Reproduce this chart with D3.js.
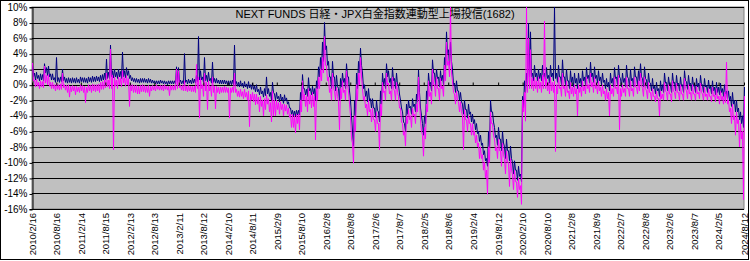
<!DOCTYPE html>
<html>
<head>
<meta charset="utf-8">
<script src="https://cdn.jsdelivr.net/npm/d3@7/dist/d3.min.js"></script>
<style>
  body { margin: 0; background: #fff; }
  text { font-family: "Liberation Sans", Arial, "Noto Sans CJK JP", sans-serif; }
</style>
</head>
<body>
<script>
// chart text
var chartTitle = "NEXT FUNDS 日経・JPX白金指数連動型上場投信(1682)";

// first and last day on the axis
var startDate = "2010/2/16",
    endDate = "2024/8/12";

// category labels shown under the plot
var tickLabels = ["2010/2/16", "2010/8/16", "2011/2/14", "2011/8/15", "2012/2/13", "2012/8/13",
  "2013/2/11", "2013/8/12", "2014/2/10", "2014/8/11", "2015/2/9", "2015/8/10", "2016/2/8",
  "2016/8/8", "2017/2/6", "2017/8/7", "2018/2/5", "2018/8/6", "2019/2/4", "2019/8/12",
  "2020/2/10", "2020/8/10", "2021/2/8", "2021/8/9", "2022/2/7", "2022/8/8", "2023/2/6",
  "2023/8/7", "2024/2/5", "2024/8/12"];

// value axis (%)
var yTicks = [10, 8, 6, 4, 2, 0, -2, -4, -6, -8, -10, -12, -14, -16];

// the daily series are too dense to read one by one, so each one is read off
// the picture as the top and bottom of its band, in even steps from startDate to endDate (%)
var navyHigh = [
  2.5,1.5,1.6,1.2,1.4,1.3,2.7,2.2,2.4,1.4,
  1.4,0.9,3.5,0.9,1.0,2.0,1.0,0.8,0.9,0.8,
  0.9,0.8,0.9,0.7,1.0,0.9,0.9,0.8,1.0,0.9,
  1.1,1.0,1.1,1.0,1.2,1.3,1.5,3.3,1.6,5.1,
  1.8,2.0,1.6,2.0,1.7,4.2,1.8,2.2,1.8,1.2,
  0.9,0.8,0.8,0.7,0.8,0.8,0.8,0.7,0.8,0.7,
  0.6,0.5,0.5,0.5,0.6,0.5,0.5,0.4,0.5,0.5,
  0.5,0.5,2.3,2.2,0.6,0.5,4.0,0.6,0.7,0.6,
  0.8,0.7,1.2,6.2,1.8,1.0,3.5,1.2,1.6,0.8,
  2.9,0.8,0.8,0.6,0.6,0.6,0.6,0.5,0.5,0.5,
  0.6,5.1,0.4,0.3,0.5,0.2,0.4,0.1,0.4,0.0,
  0.2,-0.2,0.0,-0.6,-0.3,-0.8,-0.5,1.0,-0.5,-1.0,
  0.3,-1.2,-1.0,-1.5,-1.2,-1.6,-1.3,-1.7,-2.2,-3.0,
  -3.3,-3.4,-3.3,-3.3,-1.0,1.3,-0.5,-0.6,0.9,-0.5,
  -0.2,-0.5,0.5,2.3,3.5,5.5,8.0,5.0,3.0,1.0,
  3.0,1.0,1.2,-0.5,0.8,1.5,0.8,2.7,1.0,-2.0,
  -6.0,-2.0,1.5,3.0,4.7,1.5,0.0,-0.8,-0.5,-1.8,
  -1.8,-3.0,-2.0,-3.5,-0.8,1.5,0.8,2.7,1.8,0.8,
  2.2,0.8,1.5,0.0,-2.0,-3.5,-5.0,-2.5,-2.0,-2.8,
  -1.8,-2.5,-1.2,1.9,-3.0,-5.0,-4.0,-0.8,1.5,0.3,
  3.2,1.5,2.0,1.0,1.8,1.2,3.5,6.8,4.5,5.5,
  2.0,0.2,0.5,-0.8,-1.0,-2.5,-2.0,-3.2,-2.5,-3.5,
  -3.8,-4.5,-5.0,-6.0,-6.5,-7.5,-8.5,-9.5,-6.0,-2.0,
  -3.5,-5.5,-6.5,-5.5,-7.0,-6.0,-8.0,-7.0,-8.5,-7.9,
  -10.0,-9.8,-11.0,-10.5,-11.5,-1.5,0.5,1.5,7.9,6.8,
  1.5,2.5,1.5,2.0,1.5,2.5,1.5,2.2,1.2,2.5,
  1.5,10,1.5,2.5,1.0,3.2,1.0,2.0,0.5,1.8,
  1.0,1.5,0.8,1.5,0.8,1.8,1.0,2.2,1.2,2.9,
  1.5,2.3,1.2,1.8,1.0,1.5,0.6,0.8,0.3,1.5,
  0.8,2.2,1.0,2.5,0.8,1.5,0.8,2.5,0.8,2.0,
  0.8,2.3,1.0,1.8,2.7,0.8,2.3,0.6,1.5,0.2,
  0.8,-0.2,0.3,-0.5,0.5,0.0,1.5,0.3,1.0,0.0,
  1.5,0.3,1.2,0.2,1.0,0.0,1.8,0.4,1.2,0.2,
  1.0,0.0,0.8,0.2,1.2,0.0,0.8,-0.1,0.6,-0.2,
  0.5,-0.3,0.3,-0.3,0.2,-0.5,0.0,-0.8,-0.8,-1.5,
  -1.0,-2.0,-2.0,-3.0,-3.5,-4.0,-0.3
];
var navyLow = [
  1.0,0.6,0.8,0.5,0.6,0.5,1.5,1.2,1.0,0.6,
  0.6,0.3,0.4,0.3,0.4,0.5,0.3,0.2,0.3,0.2,
  0.3,0.2,0.3,0.2,0.4,0.3,0.3,0.2,0.4,0.3,
  0.4,0.4,0.5,0.4,0.5,0.6,0.6,0.8,0.8,1.0,
  0.9,1.0,0.8,1.0,0.8,1.0,0.9,1.2,0.8,0.5,
  0.4,0.3,0.3,0.2,0.3,0.3,0.3,0.2,0.3,0.2,
  0.2,0.1,0.1,0.1,0.2,0.1,0.1,0.0,0.1,0.1,
  0.1,0.1,0.3,0.3,0.1,0.1,0.3,0.1,0.2,0.1,
  0.2,0.2,0.4,0.6,0.6,0.3,0.5,0.4,0.5,0.2,
  0.3,0.2,0.2,0.1,0.1,0.1,0.1,0.0,0.0,0.0,
  0.0,0.0,-0.2,-0.3,-0.2,-0.4,-0.3,-0.5,-0.4,-0.6,
  -0.6,-0.9,-0.9,-1.3,-1.2,-1.6,-1.4,-1.2,-1.5,-2.0,
  -1.0,-2.0,-1.8,-2.2,-2.0,-2.4,-2.1,-2.5,-3.0,-3.8,
  -4.0,-4.0,-3.9,-3.9,-2.0,-0.5,-1.3,-1.5,-0.8,-1.3,
  -1.2,-2.0,-0.5,1.0,2.0,3.0,4.5,2.5,1.0,-0.5,
  1.0,-0.8,-0.2,-2.0,-0.3,0.3,-0.5,1.0,-0.8,-4.0,
  -7.9,-4.0,-0.5,1.5,2.5,-0.5,-1.5,-2.2,-2.0,-3.0,
  -3.0,-4.2,-3.3,-4.8,-2.5,0.0,-0.5,1.0,0.3,-0.5,
  0.5,-0.5,0.0,-1.2,-3.0,-4.8,-6.0,-3.8,-3.0,-3.8,
  -2.8,-3.5,-2.2,-1.0,-4.0,-6.5,-5.0,-2.0,0.0,-0.8,
  1.5,0.0,0.8,-0.3,0.5,0.0,1.8,4.0,2.5,3.0,
  0.0,-1.0,-0.8,-2.0,-2.2,-3.8,-3.2,-4.3,-3.8,-4.8,
  -5.0,-5.8,-6.3,-7.3,-7.8,-9.0,-9.8,-10.5,-8.0,-3.5,
  -4.8,-6.8,-7.8,-7.0,-8.5,-7.5,-9.5,-8.5,-9.8,-9.5,
  -11.5,-11.0,-12.3,-11.8,-12.5,-3.0,-1.0,0.0,1.0,1.0,
  0.5,1.0,0.5,0.8,0.5,1.0,0.5,0.8,0.2,1.0,
  0.5,0.8,0.3,1.0,0.0,1.0,0.0,0.5,-0.5,0.3,
  -0.3,0.2,-0.5,0.2,-0.3,0.5,0.0,0.8,0.2,1.0,
  0.3,0.8,0.2,0.5,0.0,0.3,-0.5,-0.3,-0.8,0.2,
  -0.3,0.8,0.0,1.0,-0.3,0.3,-0.3,1.0,-0.3,0.5,
  -0.3,1.0,0.0,0.5,1.0,-0.3,0.8,-0.5,0.3,-0.8,
  -0.5,-1.2,-0.8,-1.5,-0.8,-1.0,0.2,-0.8,0.0,-1.0,
  0.2,-0.8,0.0,-0.8,-0.2,-1.0,0.5,-0.6,0.0,-0.8,
  -0.2,-1.0,-0.3,-0.8,0.0,-1.0,-0.3,-1.0,-0.5,-1.2,
  -0.8,-1.3,-1.0,-1.3,-1.0,-1.5,-1.2,-1.8,-2.0,-2.8,
  -2.5,-3.5,-3.5,-4.5,-5.0,-5.5,-2.0
];
var pinkHigh = [
  2.8,0.6,0.7,0.3,0.5,0.4,2.4,1.2,1.3,0.3,
  0.3,0.0,0.2,0.0,0.1,1.5,0.0,-0.1,0.0,-0.2,
  -0.1,-0.2,-0.2,-0.3,0.0,-0.1,-0.2,-0.3,0.0,-0.1,
  0.1,0.0,0.0,0.1,0.3,0.4,0.6,1.5,0.6,4.6,
  1.2,1.0,0.6,1.0,0.8,1.8,0.9,1.2,0.8,0.2,
  0.0,-0.1,-0.1,-0.2,-0.1,0.0,-0.1,-0.2,-0.1,-0.2,
  -0.1,-0.2,0.0,-0.2,-0.1,-0.1,0.0,-0.2,-0.2,-0.1,
  -0.1,-0.1,2.0,1.8,-0.1,-0.1,0.5,-0.2,-0.1,-0.2,
  -0.2,-0.2,2.6,1.0,0.8,0.0,1.5,0.3,0.5,-0.2,
  1.0,-0.2,-0.2,-0.3,-0.3,-0.3,-0.2,-0.3,-0.4,-0.4,
  -0.3,1.5,-0.6,-0.8,-0.6,-0.9,-0.6,-1.0,-0.8,-1.2,
  -1.0,-1.2,-1.2,-1.6,-1.5,-2.0,-1.8,-1.3,-1.8,-2.3,
  -0.8,-2.0,-2.0,-2.3,-2.2,-2.5,-2.5,-2.6,-3.0,-3.8,
  -3.8,-4.0,-3.8,-3.8,-2.0,0.5,-1.2,-1.5,-0.5,-1.3,
  -1.0,-1.5,-0.5,1.0,2.0,3.5,6.2,2.5,1.0,-0.5,
  1.5,-0.8,-0.3,-2.2,-0.5,0.5,-0.7,1.8,-0.8,-4.0,
  -7.5,-4.0,0.0,1.5,3.5,-0.5,-1.5,-2.5,-2.0,-3.2,
  -3.0,-4.5,-3.5,-5.0,-2.5,0.3,-0.8,1.5,0.2,-0.8,
  1.0,-0.8,0.3,-1.5,-3.0,-5.0,-6.0,-4.0,-3.2,-4.0,
  -3.0,-3.8,-2.5,1.0,-4.5,-6.5,-5.5,-2.5,0.5,-1.0,
  2.0,0.0,1.0,-0.5,0.8,-0.2,2.5,5.5,3.0,10,
  0.5,-1.2,-0.8,-2.2,-2.2,-4.0,-3.2,-4.5,-4.0,-5.0,
  -5.0,-6.0,-6.5,-7.5,-8.0,-9.0,-10.0,-11.0,-8.0,-3.5,
  -5.0,-7.0,-8.0,-7.0,-8.5,-7.5,-9.5,-8.5,-10.0,-9.5,
  -11.5,-11.0,-12.5,-12.0,-13.0,-2.0,-1.0,10,6.0,4.5,
  0.8,1.0,0.5,1.0,0.3,1.2,8.2,0.8,0.3,1.0,
  0.3,0.5,0.0,1.0,-0.3,1.5,-0.2,0.5,-0.8,0.3,
  -0.3,0.0,-0.5,0.0,-0.3,0.5,-0.2,1.0,0.0,1.5,
  0.3,1.0,0.0,0.5,-0.3,0.0,-0.8,-0.5,-1.0,0.0,
  -0.5,1.0,-0.3,1.2,-0.5,0.0,-0.5,1.0,-0.5,0.5,
  -0.5,1.0,-0.3,0.5,1.5,-0.5,1.0,-0.8,0.3,-1.0,
  -0.5,-1.5,-0.8,-1.8,-0.8,-1.2,0.3,-1.0,0.0,-1.2,
  0.5,-1.0,0.2,-1.0,0.0,-1.2,0.8,-0.8,0.0,-1.0,
  0.0,-1.2,-0.2,-1.0,0.2,-1.2,-0.3,-1.2,-0.5,-1.5,
  -0.3,-1.3,-0.5,-1.5,-0.8,-1.5,-1.0,2.9,-2.0,-3.0,
  -2.5,-4.0,-3.5,-4.5,-5.0,-6.0,-1.5
];
var pinkLow = [
  0.5,-0.3,-0.2,-0.5,-0.3,-0.4,0.2,0.0,-0.2,-0.5,
  -0.5,-0.8,-0.6,-0.7,-0.6,-0.4,-0.7,-1.0,-1.6,-0.9,
  -0.8,-1.3,-0.9,-1.0,-0.8,-1.0,-2.3,-1.0,-0.8,-1.0,
  -0.8,-0.9,-0.8,-1.0,-0.6,-0.6,-0.4,-0.3,-0.5,-0.5,
  -8.4,-0.2,-0.5,0.0,-0.3,0.2,-0.2,0.0,-2.8,-0.8,
  -1.0,-1.0,-1.2,-1.2,-0.9,-0.9,-1.0,-1.0,-1.5,-0.8,
  -0.7,-0.8,-0.6,-0.7,-0.7,-0.8,-0.6,-0.7,-1.4,-0.7,
  -0.7,-0.7,-0.5,-0.4,-0.7,-0.8,-0.8,-0.9,-0.8,-0.9,
  -0.9,-1.0,-0.5,-4.3,-0.5,-1.5,-0.8,-3.2,-0.8,-1.5,
  -1.0,-3.1,-1.0,-1.2,-1.0,-1.0,-1.0,-1.0,-4.3,-1.0,
  -1.0,-1.0,-1.5,-1.6,-1.5,-1.8,-1.6,-2.0,-5.4,-2.0,
  -2.2,-2.6,-2.5,-3.5,-2.8,-4.0,-3.2,-2.5,-3.5,-4.8,
  -4.0,-4.0,-3.2,-3.8,-3.2,-4.0,-3.4,-3.8,-4.2,-5.5,
  -5.5,-6.2,-5.0,-5.8,-3.5,-2.0,-2.8,-3.5,-2.5,-3.0,
  -2.8,-7.1,-2.0,-0.5,0.5,1.5,2.5,0.5,-1.0,-2.0,
  -0.5,-2.0,-1.5,-5.8,-1.8,-1.0,-2.0,0.0,-2.5,-7.0,
  -10.1,-6.0,-2.0,0.0,1.0,-2.0,-3.0,-4.0,-3.5,-4.8,
  -4.5,-6.0,-5.0,-8.4,-4.0,-1.0,-2.0,0.0,-1.2,-2.0,
  -0.5,-2.0,-1.0,-3.0,-4.8,-6.5,-7.9,-5.0,-4.5,-5.5,
  -4.0,-5.0,-3.5,-2.0,-6.0,-9.2,-7.0,-3.5,-1.5,-2.5,
  0.0,-1.5,-0.5,-2.0,-0.5,-1.5,0.5,2.5,1.0,1.5,
  -1.0,-2.5,-2.0,-3.5,-3.5,-8.4,-4.5,-6.0,-5.0,-6.5,
  -6.5,-7.5,-8.0,-9.5,-9.5,-11.0,-12.0,-14.1,-10.0,-5.0,
  -6.5,-8.5,-9.5,-8.5,-10.5,-9.0,-11.5,-10.0,-13.1,-11.0,
  -13.5,-12.5,-14.5,-13.5,-15.4,-3.5,-4.7,-1.0,-0.5,-0.5,
  -0.8,-0.5,-1.0,-0.5,-1.0,-0.5,-0.5,-0.8,-1.2,-0.8,
  -1.0,-8.6,-1.2,-0.5,-1.5,-0.5,-1.5,-1.0,-1.8,-1.2,
  -1.5,-1.2,-4.0,-1.0,-1.5,-0.8,-1.2,-0.5,-1.0,-0.3,
  -1.0,-0.5,-1.2,-0.8,-1.5,-1.2,-2.0,-1.8,-4.0,-1.2,
  -1.5,-0.5,-1.2,-5.8,-1.5,-1.0,-1.5,-0.5,-1.5,-0.8,
  -1.5,-0.3,-1.2,-0.8,0.0,-1.5,-0.5,-1.8,-1.0,-2.0,
  -1.5,-2.2,-1.8,-4.0,-1.8,-2.0,-0.8,-2.0,-1.2,-2.2,
  -0.8,-1.8,-1.0,-2.0,-1.2,-2.0,-0.5,-1.8,-1.2,-2.0,
  -1.2,-2.0,-1.2,-1.8,-1.0,-2.0,-1.5,-2.0,-1.5,-2.2,
  -1.5,-2.2,-1.8,-2.5,-2.0,-2.5,-2.3,-2.5,-3.5,-5.0,
  -4.5,-6.5,-5.0,-8.0,-7.0,-14.8,-3.0
];

// set the dimensions and margins of the graph
var margin = {top: 7, right: 6, bottom: 52, left: 32},
    width = 750 - margin.left - margin.right,
    height = 261 - margin.top - margin.bottom;

var parseDate = d3.timeParse("%Y/%m/%d");
var t0 = parseDate(startDate), t1 = parseDate(endDate);

// set the ranges
var x = d3.scaleTime().domain([t0, t1]).range([0, width]);
var y = d3.scaleLinear().domain([-16, 10]).range([height, 0]);

var svg = d3.select("body").append("svg")
    .attr("width", 750)
    .attr("height", 261);

// outer frame of the chart
svg.append("rect")
    .attr("x", 0.5).attr("y", 0.5)
    .attr("width", 748).attr("height", 259)
    .attr("fill", "#fff").attr("stroke", "#000");

var g = svg.append("g")
    .attr("transform", "translate(" + margin.left + "," + margin.top + ")");

g.append("clipPath").attr("id", "plotclip")
  .append("rect").attr("width", width + 1).attr("height", height + 1);

// plot area
g.append("rect")
    .attr("width", width).attr("height", height)
    .attr("fill", "#c0c0c0").attr("stroke", "#808080");

// horizontal grid lines
g.append("g")
  .selectAll("line")
  .data(yTicks)
  .enter().append("line")
    .attr("x1", 0).attr("x2", width)
    .attr("y1", function(d) { return Math.round(y(d)) + 0.5; })
    .attr("y2", function(d) { return Math.round(y(d)) + 0.5; })
    .attr("stroke", "#000");

// y axis
var yAxis = g.append("g")
    .attr("transform", "translate(0.5,0)")
    .call(d3.axisLeft(y).tickValues(yTicks).tickSize(3).tickPadding(2)
      .tickFormat(function(d) { return d + "%"; }));
yAxis.select(".domain").attr("stroke", "#000");
yAxis.selectAll("line").attr("transform", "translate(0,0.5)");
yAxis.selectAll("text")
    .style("font-size", "10px")
    .attr("fill", "#000");

// each step: top of the band, then the bottom half a step later
function bandPoints(high, low) {
  var step = (t1 - t0) / (high.length - 1), pts = [];
  high.forEach(function(v, i) {
    pts.push({date: new Date(+t0 + step * i), value: v});
    pts.push({date: new Date(+t0 + step * (i + 0.5)), value: low[i]});
  });
  return pts;
}
var line = d3.line()
    .x(function(d) { return x(d.date) + 0.5; })
    .y(function(d) { return y(d.value); });

var lines = g.append("g").attr("clip-path", "url(#plotclip)");

lines.append("path")
    .datum(bandPoints(navyHigh, navyLow))
    .attr("fill", "none")
    .attr("stroke", "#000080")
    .attr("stroke-width", 1)
    .attr("d", line);

lines.append("path")
    .datum(bandPoints(pinkHigh, pinkLow))
    .attr("fill", "none")
    .attr("stroke", "#ff00ff")
    .attr("stroke-width", 1)
    .attr("d", line);

// category axis crosses at 0 %, tick marks only
var tickDates = tickLabels.map(parseDate);
g.append("g")
    .attr("transform", "translate(0," + (Math.round(y(0)) + 0.5) + ")")
    .call(d3.axisTop(x).tickValues(tickDates).tickSize(3).tickFormat(""))
    .select(".domain").remove();

// labels at the bottom, rotated
var xAxis = g.append("g")
    .attr("transform", "translate(0," + height + ")")
    .call(d3.axisBottom(x).tickValues(tickDates).tickSize(0)
      .tickFormat(function(d, i) { return tickLabels[i]; }));
xAxis.select(".domain").remove();
xAxis.selectAll("text")
    .style("font-size", "9.5px")
    .attr("fill", "#000")
    .style("text-anchor", "end")
    .attr("x", -4)
    .attr("y", 0)
    .attr("dy", "0.35em")
    .attr("transform", "rotate(-90)");

// title
svg.append("text")
    .attr("x", 375)
    .attr("y", 18)
    .attr("text-anchor", "middle")
    .style("font-size", "11px")
    .text(chartTitle);
</script>
</body>
</html>
